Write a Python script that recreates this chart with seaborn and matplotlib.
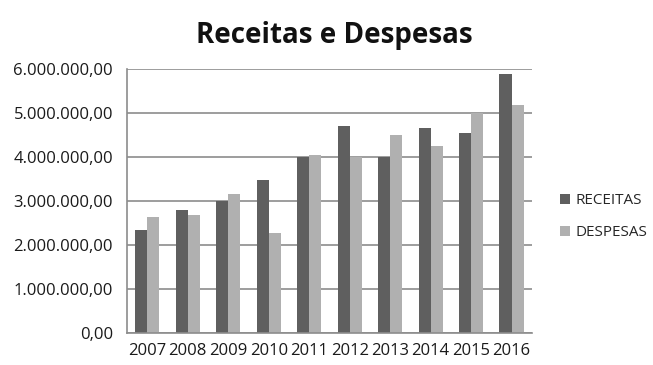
import matplotlib
matplotlib.use("Agg")
import matplotlib.pyplot as plt
import seaborn as sns
import pandas as pd
from matplotlib.ticker import FuncFormatter, FixedLocator

anos = ["2007", "2008", "2009", "2010", "2011", "2012", "2013", "2014", "2015", "2016"]
receitas = [2340000, 2800000, 3000000, 3480000, 4000000, 4700000, 4000000, 4670000, 4540000, 5880000]
despesas = [2630000, 2680000, 3170000, 2280000, 4050000, 4000000, 4490000, 4260000, 4990000, 5180000]
series = ["RECEITAS", "DESPESAS"]
cores = ["#5f5f5f", "#b0b0b0"]

df = pd.DataFrame({
    "ano": anos * 2,
    "valor": receitas + despesas,
    "serie": [series[0]] * len(anos) + [series[1]] * len(anos),
})

sns.set_style("white")
plt.rcParams["font.family"] = ["Open Sans", "DejaVu Sans"]

fig = plt.figure(figsize=(6.53, 3.65), dpi=100)
ax = fig.add_axes([0.1945, 0.0877, 0.62, 0.7233])

sns.barplot(data=df, x="ano", y="valor", hue="serie", palette=cores,
            width=0.6, gap=0, ax=ax, saturation=1, edgecolor="none", legend=True)

ax.set_ylim(0, 6000000)
ax.set_xlim(-0.5, len(anos) - 0.5)
ax.set_yticks([i * 1000000 for i in range(7)])

def fmt(v, pos):
    s = f"{v:,.2f}"
    return s.replace(",", "X").replace(".", ",").replace("X", ".")
ax.yaxis.set_major_formatter(FuncFormatter(fmt))

ax.yaxis.grid(True, color="#8c8c8c", linewidth=1.2)
ax.set_axisbelow(True)
for s in ["top", "right"]:
    ax.spines[s].set_visible(False)
ax.spines["left"].set_color("#8c8c8c")
ax.spines["left"].set_linewidth(1.2)
ax.spines["bottom"].set_color("#8c8c8c")
ax.spines["bottom"].set_linewidth(1.2)

ax.tick_params(axis="y", which="major", length=5, color="#8c8c8c", width=1.2,
               labelsize=12, labelcolor="#1a1a1a", pad=5)
ax.tick_params(axis="x", which="major", length=0, labelsize=12, labelcolor="#1a1a1a", pad=7)
ax.xaxis.set_minor_locator(FixedLocator([i - 0.5 for i in range(len(anos) + 1)]))
ax.tick_params(axis="x", which="minor", length=5, color="#8c8c8c", width=1.2)

ax.set_xlabel("")
ax.set_ylabel("")

fig.text(0.512, 0.904, "Receitas e Despesas", ha="center", va="center",
         fontsize=20, fontweight="bold", color="#111111")

handles, labels = ax.get_legend_handles_labels()
ax.legend(handles, labels, loc="center left", bbox_to_anchor=(1.035, 0.44),
          frameon=False, fontsize=11, handlelength=0.65, handleheight=0.65,
          handletextpad=0.4, labelspacing=1.1)

fig.savefig("out.png", dpi=100)
